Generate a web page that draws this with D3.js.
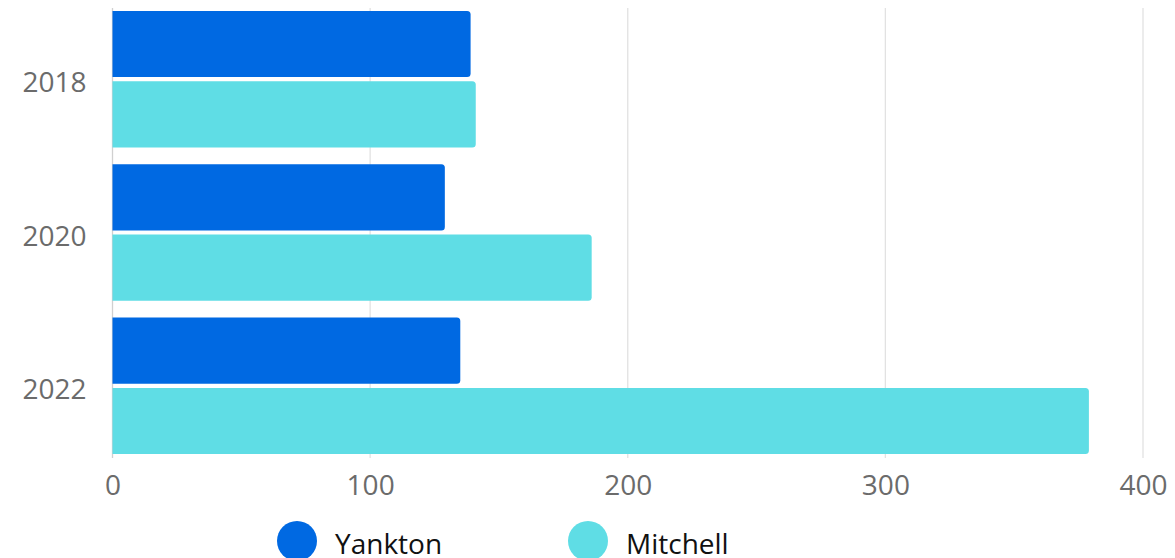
<!DOCTYPE html>
<html>
<head>
<meta charset="utf-8">
<script src="https://cdn.jsdelivr.net/npm/d3@7"></script>
<style>
  html, body { margin: 0; padding: 0; background: #ffffff; }
  svg { display: block; }
  text { font-family: "Open Sans", Lato, sans-serif; }
</style>
</head>
<body>
<svg id="chart" width="1175" height="558"></svg>
<script>
// Years shown on the vertical axis
const years = ["2018", "2020", "2022"];
// Series names and their colours
const seriesNames = ["Yankton", "Mitchell"];
const seriesColors = ["#0069e2", "#5fdde5"];
// Values per series, in the order of years
const yanktonValues = [139, 129, 135];
const mitchellValues = [141, 186, 379];
// Horizontal axis ticks
const xTicks = [0, 100, 200, 300, 400];

const seriesValues = [yanktonValues, mitchellValues];
const rows = years.map((y, i) => ({
  year: y,
  values: seriesNames.map((s, k) => ({ series: s, value: seriesValues[k][i], color: seriesColors[k] }))
}));

const svg = d3.select("#chart");

const x = d3.scaleLinear().domain([0, 400]).range([112.5, 1143]);
const y = d3.scaleBand().domain(years).range([2.5, 462.5]).paddingInner(0.11).paddingOuter(0.055);
const ySub = d3.scaleBand().domain(seriesNames).range([0, y.bandwidth()]).paddingInner(0.06);

// Vertical gridlines
svg.append("g")
  .selectAll("line")
  .data(xTicks.filter(t => t > 0))
  .join("line")
  .attr("x1", d => x(d)).attr("x2", d => x(d))
  .attr("y1", 8).attr("y2", 458)
  .attr("stroke", "#e2e2e2")
  .attr("stroke-width", 1.3);

// Baseline at zero
svg.append("line")
  .attr("x1", x(0)).attr("x2", x(0))
  .attr("y1", 8).attr("y2", 458)
  .attr("stroke", "#d0d0d0")
  .attr("stroke-width", 1.3);

// Bars with rounded right ends
function barPath(x0, x1, y0, h, r) {
  r = Math.min(r, (x1 - x0) / 2, h / 2);
  return `M${x0},${y0}H${x1 - r}Q${x1},${y0} ${x1},${y0 + r}V${y0 + h - r}Q${x1},${y0 + h} ${x1 - r},${y0 + h}H${x0}Z`;
}

const groups = svg.append("g")
  .selectAll("g")
  .data(rows)
  .join("g")
  .attr("transform", d => `translate(0,${y(d.year)})`);

groups.selectAll("path")
  .data(d => d.values)
  .join("path")
  .attr("d", d => barPath(x(0), x(d.value), ySub(d.series), ySub.bandwidth(), 3.5))
  .attr("fill", d => d.color);

// Y axis labels
const yAxis = d3.axisLeft(y).tickSize(0).tickPadding(26);
svg.append("g")
  .attr("transform", `translate(${x(0)},0)`)
  .call(yAxis)
  .call(g => g.select(".domain").remove())
  .call(g => g.selectAll("text")
    .attr("font-size", 28)
    .attr("fill", "#6b6b6b")
    .attr("font-family", "'Open Sans', Lato, sans-serif")
    .attr("dy", 0)
    .attr("y", 13));

// X axis labels
const xAxis = d3.axisBottom(x).tickValues(xTicks).tickSize(0).tickPadding(0);
svg.append("g")
  .attr("transform", "translate(0,495)")
  .call(xAxis)
  .call(g => g.select(".domain").remove())
  .call(g => g.selectAll("text")
    .attr("font-size", 28)
    .attr("fill", "#6b6b6b")
    .attr("font-family", "'Open Sans', Lato, sans-serif")
    .attr("dy", 0)
    .attr("y", 0));

// Legend
const legendX = [297, 588];
const legend = svg.append("g")
  .selectAll("g")
  .data(seriesNames)
  .join("g")
  .attr("transform", (d, i) => `translate(${legendX[i]},541)`);

legend.append("circle")
  .attr("r", 20)
  .attr("fill", (d, i) => seriesColors[i]);

legend.append("text")
  .attr("x", 38)
  .attr("y", 13)
  .attr("font-size", 28)
  .attr("fill", "#111111")
  .text(d => d);
</script>
</body>
</html>
